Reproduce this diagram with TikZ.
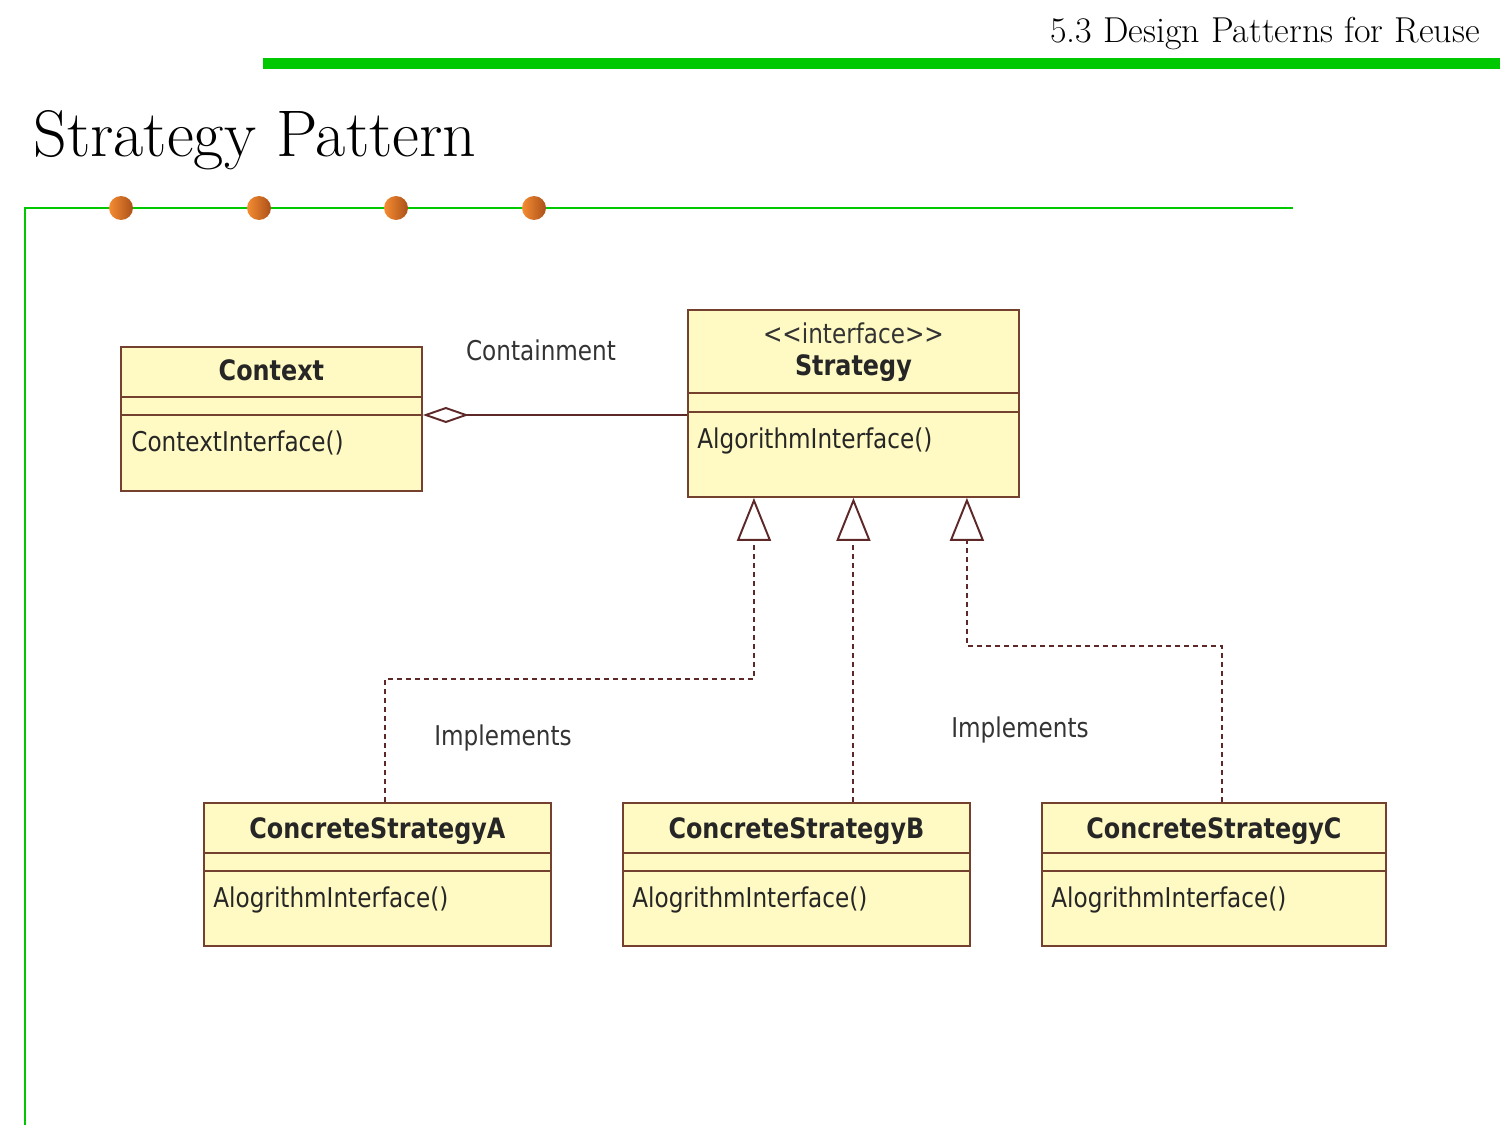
\documentclass[tikz,border=0pt]{standalone}
\usepackage{fontspec}
\newfontfamily\umlfont{DejaVu Sans}[FakeStretch=0.85]
\definecolor{slidegreen}{RGB}{0,200,0}
\definecolor{classfill}{RGB}{255,250,195}
\definecolor{classedge}{RGB}{115,65,45}
\definecolor{linkbrown}{RGB}{95,40,40}
\definecolor{dotlight}{RGB}{245,140,50}
\definecolor{dotdark}{RGB}{170,80,25}
\usepackage{tikz}
\usetikzlibrary{arrows.meta,calc}

\begin{document}
\begin{tikzpicture}[x=0.02cm, y=-0.02cm,
    cls/.style={draw=classedge, fill=classfill, line width=1.1pt, anchor=north west, inner sep=0pt},
    sep/.style={draw=classedge, line width=1.1pt},
    nm/.style={font={\umlfont\bfseries\fontsize{16}{19}\selectfont}, text=black!85, anchor=base},
    op/.style={font={\umlfont\fontsize{15.5}{18}\selectfont}, text=black!85, anchor=base west, inner sep=0pt},
    lbl/.style={font={\umlfont\fontsize{15.5}{18}\selectfont}, text=black!80, anchor=base},
    impl/.style={draw=linkbrown, line width=1.1pt, dash pattern=on 0.1cm off 0.08cm,
        -{Triangle[open, length=0.86cm, width=0.68cm, fill=white]}},
]
    \useasboundingbox (0,0) rectangle (1500,1125);

    \node[font=\fontsize{20.5}{24}\selectfont, anchor=base east, inner sep=0pt] (chapter) at (1480,43) {5.3 Design Patterns for Reuse};
    \fill[slidegreen] (263,58) rectangle (1500,69);
    \node[font=\fontsize{37.5}{44}\selectfont, anchor=base west, inner sep=0pt] (title) at (33,157) {Strategy Pattern};
    \draw[slidegreen, line width=1.2pt] (1293,208) -- (25,208) -- (25,1125);
    \shade[left color=dotlight, right color=dotdark] (121,208) circle [radius=0.24cm];
    \shade[left color=dotlight, right color=dotdark] (259,208) circle [radius=0.24cm];
    \shade[left color=dotlight, right color=dotdark] (396,208) circle [radius=0.24cm];
    \shade[left color=dotlight, right color=dotdark] (534,208) circle [radius=0.24cm];

    \node[cls, minimum width=6.02cm, minimum height=2.88cm] (ctx) at (120,346) {};
    \draw[sep] ($(ctx.north west)+(0,51)$) -- ($(ctx.north east)+(0,51)$);
    \draw[sep] ($(ctx.north west)+(0,69)$) -- ($(ctx.north east)+(0,69)$);
    \node[nm] (ctxname) at ($(ctx.north)+(0,34)$) {Context};
    \node[op] (ctxop) at ($(ctx.north west)+(11,105)$) {ContextInterface()};

    \node[cls, minimum width=6.62cm, minimum height=3.74cm] (strat) at (687,309) {};
    \draw[sep] ($(strat.north west)+(0,84)$) -- ($(strat.north east)+(0,84)$);
    \draw[sep] ($(strat.north west)+(0,103)$) -- ($(strat.north east)+(0,103)$);
    \node[lbl] (stereo) at ($(strat.north)+(0,34)$) {<{}<interface>{}>};
    \node[nm] (stratname) at ($(strat.north)+(0,66)$) {Strategy};
    \node[op] (stratop) at ($(strat.north west)+(10,139)$) {AlgorithmInterface()};

    \node[cls, minimum width=6.94cm, minimum height=2.86cm] (csA) at (203,802) {};
    \draw[sep] ($(csA.north west)+(0,51)$) -- ($(csA.north east)+(0,51)$);
    \draw[sep] ($(csA.north west)+(0,69)$) -- ($(csA.north east)+(0,69)$);
    \node[nm] (csAname) at ($(csA.north)+(0,36)$) {ConcreteStrategyA};
    \node[op] (csAop) at ($(csA.north west)+(10,105)$) {AlogrithmInterface()};

    \node[cls, minimum width=6.94cm, minimum height=2.86cm] (csB) at (622,802) {};
    \draw[sep] ($(csB.north west)+(0,51)$) -- ($(csB.north east)+(0,51)$);
    \draw[sep] ($(csB.north west)+(0,69)$) -- ($(csB.north east)+(0,69)$);
    \node[nm] (csBname) at ($(csB.north)+(0,36)$) {ConcreteStrategyB};
    \node[op] (csBop) at ($(csB.north west)+(10,105)$) {AlogrithmInterface()};

    \node[cls, minimum width=6.88cm, minimum height=2.86cm] (csC) at (1041,802) {};
    \draw[sep] ($(csC.north west)+(0,51)$) -- ($(csC.north east)+(0,51)$);
    \draw[sep] ($(csC.north west)+(0,69)$) -- ($(csC.north east)+(0,69)$);
    \node[nm] (csCname) at ($(csC.north)+(0,36)$) {ConcreteStrategyC};
    \node[op] (csCop) at ($(csC.north west)+(10,105)$) {AlogrithmInterface()};

    \coordinate (ctxR) at ($(ctx.north east)+(0,69)$);
    \draw[linkbrown, line width=1.1pt, {Diamond[open, length=0.92cm, width=0.32cm, fill=white]}-] (ctxR) -- (ctxR -| strat.west);
    \node[lbl] (contain) at (541,360) {Containment};

    \draw[impl] ([xshift=0.15cm]csA.north) -- ++(0,-123) -| ([xshift=-1.99cm]strat.south);
    \draw[impl] (strat.south |- csB.north) -- (strat.south);
    \draw[impl] ([xshift=0.16cm]csC.north) -- ++(0,-156) -| ([xshift=2.27cm]strat.south);
    \node[lbl] (implA) at (503,745) {Implements};
    \node[lbl] (implC) at (1020,737) {Implements};
\end{tikzpicture}
\end{document}
